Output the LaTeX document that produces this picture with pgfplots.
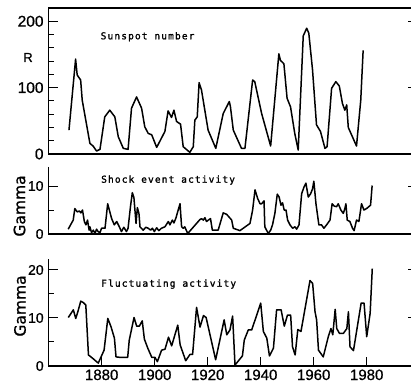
\documentclass[border=0pt]{standalone}
\usepackage{fontspec}
\setmainfont[FakeBold=1]{Liberation Sans}
\newfontfamily\tickfont[FakeBold=0.8]{Liberation Sans}
\newfontfamily\titlefont[LetterSpace=12, FakeBold=1.5]{DejaVu Sans Mono}
\newfontfamily\gammafont[FakeBold=1]{DejaVu Sans}
\usepackage{pgfplots}
\pgfplotsset{compat=1.18}

\tikzset{
  frame/.style={black, line width=1.2pt},
  xmark/.style={black, line width=1pt},
}
\pgfplotsset{
  panel/.style={
    scale only axis, width=368.35pt,
    xmin=1860, xmax=1999, ymin=0,
    anchor=south west, clip=false,
    axis line style={draw=none},
    xtick pos=left,
    every tick/.style={black, line width=1pt},
    tick align=inside,
    major tick length=9pt, minor tick length=5.5pt,
    /pgf/number format/assume math mode=true,
    /pgf/number format/1000 sep={},
    yticklabel style={font=\tickfont\fontsize{14}{14}\selectfont, xshift=-1.5pt},
    xticklabel style={font=\tickfont\fontsize{15}{15}\selectfont},
  },
  series/.style={black, line width=1.5pt, line join=round, no markers},
}

\begin{document}
\begin{tikzpicture}[x=1pt, y=1pt]
\useasboundingbox (0,0) rectangle (411,388);

% ---------- sunspot number ----------
\begin{axis}[panel, at={(48.7pt,234pt)}, height=146pt, ymax=220,
  ytick={0,100,200}, minor ytick={20,40,60,80,120,140,160,180},
  xtick=\empty,
  yticklabel style={font=\tickfont\fontsize{15.5}{15.5}\selectfont}]
\addplot[series] coordinates {
(1867.7,36) (1870.2,143) (1870.8,119) (1872.1,111.5) (1872.7,81) (1875.6,16)
(1876.8,12) (1878.1,4.5) (1879.4,7) (1881.2,56) (1883.1,66) (1885.0,56)
(1886.3,26) (1888.2,8.5) (1890.0,7) (1891.3,69) (1893.2,86) (1895.1,69)
(1896.3,41) (1897.6,31) (1898.9,29) (1900.8,10) (1903.9,34) (1905.1,65)
(1906.4,55) (1907.3,66) (1908.3,49) (1909.8,45) (1910.8,11) (1913.3,2.5)
(1914.6,11) (1915.2,51) (1916.1,56) (1916.8,107.5) (1917.7,96.5) (1920.2,36)
(1923.1,8.5) (1925.9,61) (1928.2,79) (1928.6,72) (1929.7,36) (1932.8,8.5)
(1934.1,8.5) (1937.0,111.5) (1937.8,109) (1940.4,61) (1943.8,12)
(1946.9,151) (1947.5,141) (1948.8,136) (1950.0,84) (1951.3,71) (1952.9,31)
(1954.2,6) (1956.1,178) (1957.4,189.5) (1958.2,182) (1959.6,127) (1961.1,44)
(1962.6,34) (1964.3,8.5) (1965.1,11) (1966.8,99) (1968.4,109) (1969.7,102.5)
(1970.9,76) (1971.8,66) (1972.5,74) (1973.1,40) (1976.2,12) (1977.8,81)
(1978.7,156)
};
\draw[frame] (rel axis cs:1,1) -- (rel axis cs:0,1) -- (rel axis cs:0,0) -- (rel axis cs:1,0);
\pgfplotsinvokeforeach{1880,1900,1920,1940,1960,1980}{
  \draw[xmark] (axis cs:#1,0) ++(0,1pt) -- ++(0,-8pt);
}
\end{axis}

% ---------- shock event activity ----------
\begin{axis}[panel, at={(48.7pt,154pt)}, height=67.2pt, ymax=14,
  ytick={0,10}, minor ytick={5}, xtick=\empty]
\addplot[series] coordinates {
(1867.4,1.0) (1869.3,2.9) (1869.9,5.3) (1870.8,4.6) (1871.6,4.8) (1872.2,4.4)
(1872.8,5.0) (1873.5,2.6) (1874.1,1.9) (1874.7,2.9) (1875.3,0.8) (1875.6,1.5)
(1876.2,0.3) (1876.9,0.8) (1877.5,0.1) (1878.1,1.0) (1878.7,0.5) (1879.4,0.3)
(1880.0,1.2) (1881.3,1.2) (1882.3,6.3) (1883.8,3.2) (1884.8,1.9) (1885.7,2.6)
(1886.7,1.5) (1887.5,0.5) (1888.4,1.4) (1889.4,0.5) (1890.0,1.2) (1890.9,5.7)
(1891.6,8.6) (1892.2,7.6) (1893.0,2.2) (1893.5,5.5) (1894.1,4.3) (1894.5,1.5)
(1895.7,0.8) (1896.7,1.4) (1897.6,1.2) (1898.5,0.8) (1899.2,1.2) (1899.9,0.5)
(1900.8,1.3) (1901.6,0.7) (1902.6,1.2) (1903.9,1.5) (1905.2,2.6) (1905.8,1.9)
(1906.7,2.9) (1907.3,2.3) (1908.1,3.4) (1908.7,4.6) (1909.6,6.3) (1910.2,1.5)
(1910.8,1.2) (1911.4,1.5) (1912.5,0.1) (1917.1,3.0) (1917.7,3.2) (1918.4,2.9)
(1919.0,3.4) (1919.6,2.6) (1920.3,2.9) (1921.1,3.2) (1921.8,0.8) (1924.0,0.8)
(1925.9,4.4) (1927.2,4.1) (1929.1,2.9) (1929.7,1.2) (1932.2,0.7) (1936.0,2.2)
(1937.0,5.0) (1937.9,9.2) (1938.9,7.4) (1939.8,6.3) (1940.4,6.3) (1941.3,6.9)
(1941.6,1.5) (1942.9,0.1) (1943.8,0.8) (1944.5,1.9) (1945.4,4.3) (1946.3,8.3)
(1947.0,7.7) (1947.7,6.0) (1948.3,6.5) (1948.9,5.0) (1949.6,5.0) (1950.2,2.9)
(1951.1,1.9) (1952.1,1.2) (1953.0,1.5) (1953.6,1.0) (1954.5,1.9) (1955.5,8.4)
(1956.4,9.8) (1957.1,10.6) (1958.0,7.7) (1958.9,8.4) (1959.6,9.4) (1960.1,11.0)
(1960.9,6.3) (1962.0,1.9) (1963.0,1.9) (1963.9,1.2) (1964.9,1.9) (1966.2,2.9)
(1967.0,6.3) (1967.8,5.8) (1968.7,5.7) (1969.3,6.3) (1970.3,5.0) (1971.2,4.3)
(1971.8,5.3) (1972.2,6.3) (1972.7,2.9) (1973.7,2.6) (1974.7,1.2) (1975.3,0.7)
(1976.2,2.9) (1977.1,2.6) (1978.1,6.3) (1979.0,5.0) (1980.0,5.3) (1981.5,6.0)
(1982.1,10.1)
};
\draw[frame] (rel axis cs:0,1) -- (rel axis cs:0,0) -- (rel axis cs:1,0);
\pgfplotsinvokeforeach{1880,1900,1920,1940,1960,1980}{
  \draw[xmark] (axis cs:#1,0) ++(0,1pt) -- ++(0,-8pt);
}
\end{axis}

% ---------- fluctuating activity ----------
\begin{axis}[panel, at={(48.7pt,22pt)}, height=106.6pt, ymax=22.2,
  ytick={0,10,20}, minor ytick={5,15},
  xtick={1880,1900,1920,1940,1960,1980}]
\addplot[series] coordinates {
(1867.4,10.1) (1869.3,11.7) (1870.2,9.9) (1871.0,11.3) (1872.1,13.5)
(1873.1,13.2) (1874.0,12.7) (1875.0,2.3) (1876.6,1.6) (1878.7,0.6)
(1880.9,3.3) (1882.3,9.9) (1883.5,8.2) (1884.8,5.8) (1885.4,1.9) (1886.9,1.8)
(1889.8,1.8) (1890.4,5.4) (1892.2,10.1) (1893.2,8.3) (1894.2,8.3) (1895.3,9.4)
(1896.1,5.6) (1897.4,3.7) (1898.9,1.8) (1900.1,1.8) (1901.0,0.9) (1902.6,3.3)
(1903.9,3.5) (1905.2,6.0) (1906.4,4.2) (1908.7,8.5) (1909.6,4.4) (1911.7,1.1)
(1913.3,2.4) (1914.3,2.4) (1915.8,12.2) (1917.1,8.1) (1918.4,10.5)
(1919.4,10.1) (1923.0,1.3) (1926.2,9.6) (1927.2,6.5) (1928.4,7.5)
(1929.4,10.4) (1930.3,0.2) (1933.1,2.1) (1933.8,5.4) (1935.3,7.5)
(1936.6,7.5) (1940.0,13.1) (1941.0,7.2) (1942.3,5.8) (1943.3,2.1)
(1944.8,3.7) (1946.0,11.7) (1947.7,11.7) (1948.9,8.3) (1950.1,10.6)
(1951.3,10.6) (1952.0,4.0) (1953.0,2.3) (1954.0,7.6) (1955.2,7.2)
(1958.6,17.8) (1959.6,17.2) (1960.5,11.3) (1961.1,9.6) (1961.8,3.3)
(1963.6,1.9) (1965.5,6.1) (1966.5,7.8) (1967.2,6.5) (1968.1,11.8)
(1968.7,7.8) (1969.7,6.8) (1971.2,6.8) (1972.5,7.8) (1973.1,11.3)
(1973.7,4.0) (1975.0,3.2) (1977.9,13.1) (1979.0,13.1) (1980.0,6.1)
(1981.3,11.0) (1982.1,20.3)
};
\draw[frame] (rel axis cs:0,1) -- (rel axis cs:0,0) -- (rel axis cs:1,0);
\end{axis}

% panel titles and axis labels
\node[anchor=base west, inner sep=0pt, font=\titlefont\fontsize{9.5}{9.5}\selectfont] at (100.5,348.7) {Sunspot number};
\node[anchor=base west, inner sep=0pt, font=\titlefont\fontsize{9.5}{9.5}\selectfont] at (101,205.3) {Shock event activity};
\node[anchor=base west, inner sep=0pt, font=\titlefont\fontsize{9.5}{9.5}\selectfont] at (101,101.3) {Fluctuating activity};
\node[font=\tickfont\fontsize{13}{13}\selectfont] at (28,330.5) {R};
\node[rotate=90, font=\gammafont\fontsize{15.5}{15.5}\selectfont] at (19.5,182) {Gamma};
\node[rotate=90, font=\gammafont\fontsize{15.5}{15.5}\selectfont] at (20,82) {Gamma};
\end{tikzpicture}
\end{document}
